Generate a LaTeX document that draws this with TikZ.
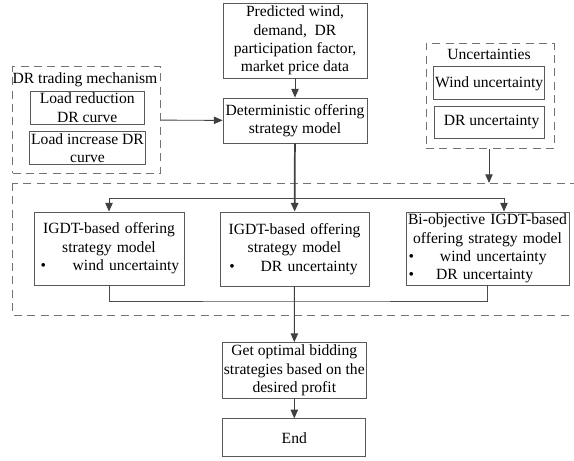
\documentclass[tikz,border=0pt]{standalone}
\usepackage{fontspec}
\setmainfont{Liberation Serif}
\usetikzlibrary{arrows.meta}

\begin{document}
\begin{tikzpicture}[x=0.75pt,y=-0.75pt,
    box/.style={draw=black!65,line width=0.6pt,inner sep=1pt,align=center,font=\fontsize{11.7}{13.8}\selectfont},
    dbox/.style={draw=black!55,line width=0.7pt,dash pattern=on 6pt off 4pt},
    arr/.style={-{Triangle[length=6.5pt,width=5.5pt]},draw=black!75,line width=0.7pt},
    ln/.style={draw=black!70,line width=0.7pt}]
  \useasboundingbox (0,0) rectangle (574,460);
      \node[box,minimum width=108pt,minimum height=56.25pt] (data) at (295,40.5) {Predicted wind,\\demand,\ \ DR\\participation factor,\\market price data};
      \node[box,minimum width=108pt,minimum height=33.75pt] (det) at (295,120.5) {Deterministic offering\\strategy model};
      \node[dbox,minimum width=111pt,minimum height=80pt] (drm) at (86.7,120) {};
      \node[box,draw=none] (drmt) at (85,80) {DR trading mechanism};
      \node[box,minimum width=85.5pt,minimum height=24.75pt] (lr) at (87.2,107.5) {Load reduction\\DR curve};
      \node[box,minimum width=85.5pt,minimum height=24.75pt] (li) at (87.5,148.3) {Load increase DR\\curve};
      \node[dbox,minimum width=96pt,minimum height=78.75pt] (unc) at (490,95.8) {};
      \node[box,draw=none] (unct) at (489,54) {Uncertainties};
      \node[box,minimum width=82.5pt,minimum height=24.75pt] (wu) at (489.2,83.3) {Wind uncertainty};
      \node[box,minimum width=82.5pt,minimum height=24pt] (du) at (489.7,122.2) {\ DR uncertainty};
    % IGDT models
      \node[box,inner sep=0pt,text width=112.5pt,minimum height=54.75pt] (ma) at (109,248.5) {IGDT-based offering\\strategy model\\\makebox[112.5pt][l]{\hspace{5pt}\rlap{\textbullet}\hspace{24pt}wind uncertainty}};
      \node[box,inner sep=0pt,text width=111.75pt,minimum height=55.5pt] (mb) at (294.5,249) {IGDT-based offering\\strategy model\\\makebox[111.75pt][l]{\hspace{7pt}\rlap{\textbullet}\hspace{23.5pt}DR uncertainty}};
      \node[box,inner sep=0pt,text width=122.25pt,minimum height=54.75pt] (mc) at (487.5,248.5) {Bi-objective IGDT-based\\offering strategy model\\\makebox[122.25pt][l]{\hspace{2pt}\rlap{\textbullet}\hspace{23.5pt}wind uncertainty}\\\makebox[122.25pt][l]{\hspace{2pt}\rlap{\textbullet}\hspace{20.5pt}DR uncertainty}};
      \node[box,minimum width=107.25pt,minimum height=42pt] (opt) at (294.3,370.5) {Get optimal bidding\\strategies based on the\\desired profit};
      \node[box,minimum width=107.25pt,minimum height=28.5pt] (fin) at (294.3,437.8) {End};
    \draw[dbox] (12.7,183) rectangle (590,315);
    \coordinate (sp) at (295,198);
    \coordinate (c1) at (504,198);
    \coordinate (jn) at (295,301);
    \coordinate (bt) at (489,183);
    \draw[arr] (data) -- (det);
    \draw[arr] (drm) -- (det);
    \draw[arr] (unc.south -| bt) -- (bt);
    \draw[arr,line width=1.3pt] (det) -- (mb);
    \draw[ln] (ma.north |- sp) -- (c1);
    \draw[arr] (ma.north |- sp) -- (ma);
    \draw[arr] (c1) -- (c1 |- mc.north);
    \draw[ln] (ma.south) |- (jn) -| (mc.south);
    \draw[arr] (mb) -- (opt);
    \draw[arr] (opt) -- (fin);
    \end{tikzpicture}
\end{document}
